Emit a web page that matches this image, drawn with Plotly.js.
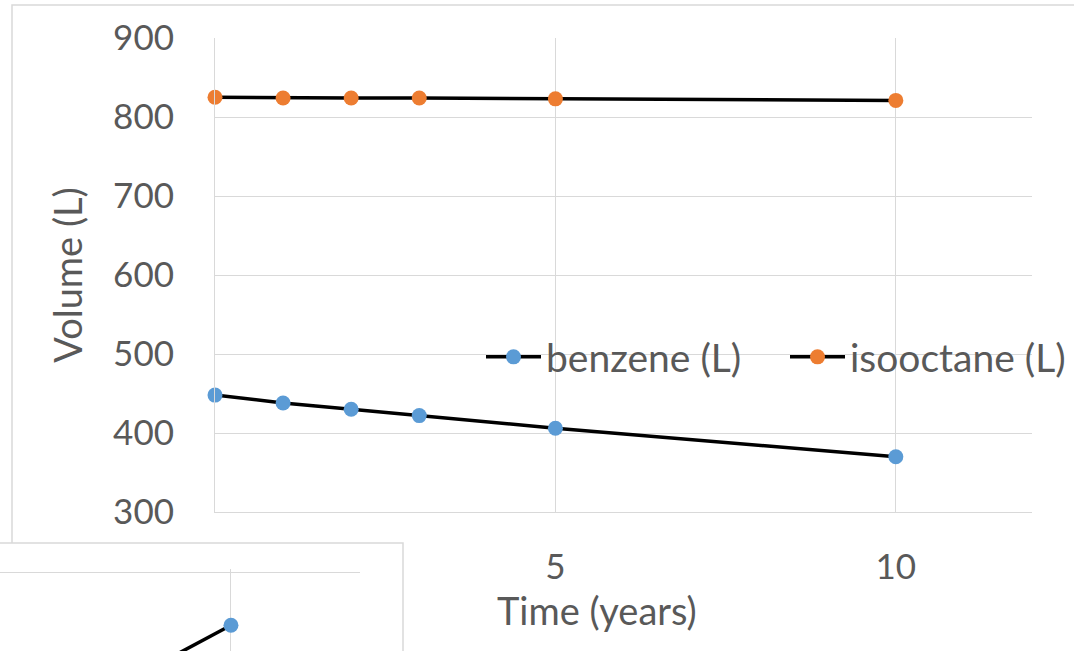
<!DOCTYPE html>
<html>
<head>
<meta charset="utf-8">
<script src="https://cdn.plot.ly/plotly-3.0.1.min.js"></script>
<style>html,body{margin:0;padding:0;background:#fff;}#chart{width:1074px;height:651px;}</style>
</head>
<body>
<div id="chart"></div>
<script>
// Main chart data
const timeYears = [0, 1, 2, 3, 5, 10];
const benzene = [448, 438, 430, 422, 406, 370];
const isooctane = [825, 824, 824, 824, 823, 821];
const xTicks = [5, 10];
const yTicks = [300, 400, 500, 600, 700, 800, 900];

// Fragment of an overlapping second chart (bottom-left)
const insetX = [5, 10];
const insetY = [12, 233];

const W = 1074, H = 651;
const px = v => v / W;
const py = v => (H - v) / H;
const txt = '#595959';
const grid = '#d9d9d9';
const fam = 'Lato, "Noto Sans", sans-serif';

const traces = [
  {x: timeYears, y: benzene, name: 'benzene (L)', type: 'scatter', mode: 'lines+markers',
   line: {color: '#000000', width: 3.5}, marker: {color: '#5b9bd5', size: 15},
   cliponaxis: false, xaxis: 'x', yaxis: 'y', legend: 'legend'},
  {x: timeYears, y: isooctane, name: 'isooctane (L)', type: 'scatter', mode: 'lines+markers',
   line: {color: '#000000', width: 3.5}, marker: {color: '#ed7d31', size: 15},
   cliponaxis: false, xaxis: 'x', yaxis: 'y', legend: 'legend2'},
  {x: insetX, y: insetY, name: 'inset', type: 'scatter', mode: 'lines+markers', showlegend: false,
   line: {color: '#000000', width: 3.5}, marker: {color: '#5b9bd5', size: 15},
   xaxis: 'x2', yaxis: 'y2'}
];

const legendBase = {orientation: 'h', xanchor: 'left', y: py(357), yanchor: 'middle',
  itemwidth: 55, bgcolor: 'rgba(0,0,0,0)', borderwidth: 0,
  font: {family: fam, size: 39, color: txt}};

const layout = {
  width: W, height: H,
  margin: {l: 0, r: 0, t: 0, b: 0, pad: 0},
  paper_bgcolor: 'rgba(0,0,0,0)',
  plot_bgcolor: 'rgba(0,0,0,0)',
  font: {family: fam, color: txt, size: 35},
  showlegend: true,
  legend: Object.assign({}, legendBase, {x: px(481)}),
  legend2: Object.assign({}, legendBase, {x: px(785)}),
  xaxis: {domain: [px(215), px(1032)], range: [0, 12], tickvals: xTicks,
          showgrid: true, gridcolor: grid, gridwidth: 1, zeroline: false,
          showline: true, linecolor: grid, linewidth: 1,
          ticks: 'outside', ticklen: 24, tickcolor: 'rgba(0,0,0,0)',
          tickfont: {family: fam, size: 35, color: txt}, anchor: 'y'},
  yaxis: {domain: [py(512), py(38)], range: [300, 900], tickvals: yTicks,
          showgrid: true, gridcolor: grid, gridwidth: 1, zeroline: false,
          showline: true, linecolor: grid, linewidth: 1,
          ticks: 'outside', ticklen: 33, tickcolor: 'rgba(0,0,0,0)',
          tickfont: {family: fam, size: 35, color: txt}, anchor: 'x',
          title: {text: 'Volume (L)', font: {family: fam, size: 38, color: txt}, standoff: 18}},
  xaxis2: {domain: [0, px(360)], range: [6.42, 12], tickvals: [10], showticklabels: false,
           showgrid: true, gridcolor: grid, zeroline: false, showline: false, anchor: 'y2'},
  yaxis2: {domain: [0, py(569)], range: [200, 305], tickvals: [300], showticklabels: false,
           showgrid: true, gridcolor: grid, zeroline: false, showline: false, anchor: 'x2'},
  annotations: [
    {text: 'Time (years)', xref: 'paper', yref: 'paper', x: px(597), y: py(610),
     xanchor: 'center', yanchor: 'middle', showarrow: false,
     font: {family: fam, size: 38, color: txt}}
  ],
  shapes: [
    {type: 'rect', xref: 'paper', yref: 'paper', x0: px(12), x1: 1.05, y0: -0.05, y1: py(5),
     line: {color: grid, width: 1.5}, fillcolor: '#ffffff', layer: 'below'},
    {type: 'rect', xref: 'paper', yref: 'paper', x0: -0.05, x1: px(403), y0: -0.05, y1: py(543),
     line: {color: grid, width: 1.5}, fillcolor: '#ffffff', layer: 'below'}
  ]
};

Plotly.newPlot('chart', traces, layout, {displayModeBar: false, staticPlot: true});
</script>
</body>
</html>
